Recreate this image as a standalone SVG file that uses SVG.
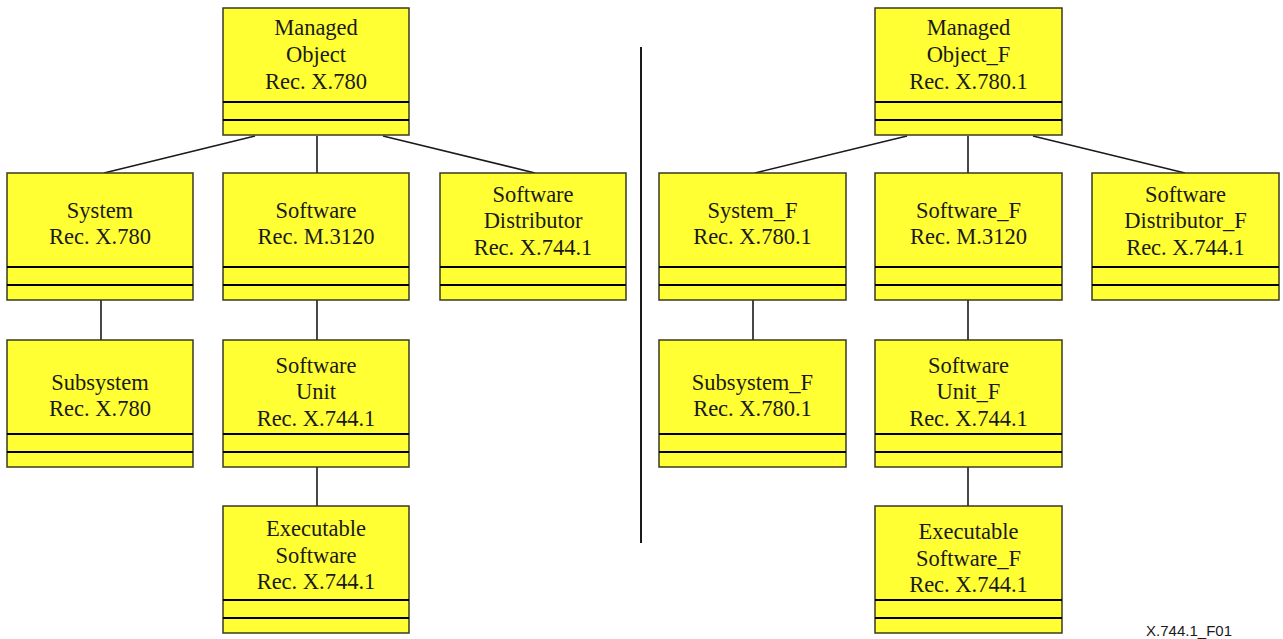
<svg xmlns="http://www.w3.org/2000/svg" width="1283" height="639" viewBox="0 0 1283 639">
<style>
.box{fill:#FFFF33;stroke:#3a3a20;stroke-width:1.5}
.sep{stroke:#000;stroke-width:2.2}
.t{font-family:"Liberation Serif","Times New Roman",serif;font-size:22.5px;fill:#1a1a1a;text-anchor:middle}
.c{stroke:#1a1a1a;stroke-width:1.6;fill:none}
.lbl{font-family:"Liberation Sans",Arial,sans-serif;font-size:15px;fill:#1a1a1a;text-anchor:end}
</style>
<rect width="1283" height="639" fill="#fff"/>
<g id="connectors">
<line class="c" x1="255" y1="136" x2="104" y2="173"/>
<line class="c" x1="317" y1="136" x2="317" y2="173"/>
<line class="c" x1="383" y1="136" x2="535" y2="173"/>
<line class="c" x1="907" y1="136" x2="755" y2="173"/>
<line class="c" x1="968" y1="136" x2="968" y2="173"/>
<line class="c" x1="1033" y1="136" x2="1185" y2="173"/>
<line class="c" x1="101" y1="300" x2="101" y2="340"/>
<line class="c" x1="317" y1="300" x2="317" y2="340"/>
<line class="c" x1="317" y1="467" x2="317" y2="506"/>
<line class="c" x1="753" y1="300" x2="753" y2="340"/>
<line class="c" x1="968" y1="300" x2="968" y2="340"/>
<line class="c" x1="968" y1="467" x2="968" y2="506"/>
</g>
<line id="divider" x1="641" y1="47" x2="641" y2="543" stroke="#1a1a1a" stroke-width="2"/>

<g id="managed-object">
<rect class="box" x="223" y="8" width="186" height="127"/>
<line class="sep" x1="223" y1="102" x2="409" y2="102"/><line class="sep" x1="223" y1="120" x2="409" y2="120"/>
<text class="t" x="316" y="35">Managed</text><text class="t" x="316" y="62">Object</text><text class="t" x="316" y="89">Rec. X.780</text>
</g>
<g id="system">
<rect class="box" x="7" y="173" width="186" height="127"/>
<line class="sep" x1="7" y1="267" x2="193" y2="267"/><line class="sep" x1="7" y1="285" x2="193" y2="285"/>
<text class="t" x="100" y="218">System</text><text class="t" x="100" y="244">Rec. X.780</text>
</g>
<g id="software">
<rect class="box" x="223" y="173" width="186" height="127"/>
<line class="sep" x1="223" y1="267" x2="409" y2="267"/><line class="sep" x1="223" y1="285" x2="409" y2="285"/>
<text class="t" x="316" y="218">Software</text><text class="t" x="316" y="244">Rec. M.3120</text>
</g>
<g id="software-distributor">
<rect class="box" x="440" y="173" width="186" height="127"/>
<line class="sep" x1="440" y1="267" x2="626" y2="267"/><line class="sep" x1="440" y1="285" x2="626" y2="285"/>
<text class="t" x="533" y="202">Software</text><text class="t" x="533" y="228">Distributor</text><text class="t" x="533" y="255">Rec. X.744.1</text>
</g>
<g id="subsystem">
<rect class="box" x="7" y="340" width="186" height="127"/>
<line class="sep" x1="7" y1="434" x2="193" y2="434"/><line class="sep" x1="7" y1="452" x2="193" y2="452"/>
<text class="t" x="100" y="390">Subsystem</text><text class="t" x="100" y="416">Rec. X.780</text>
</g>
<g id="software-unit">
<rect class="box" x="223" y="340" width="186" height="127"/>
<line class="sep" x1="223" y1="434" x2="409" y2="434"/><line class="sep" x1="223" y1="452" x2="409" y2="452"/>
<text class="t" x="316" y="373">Software</text><text class="t" x="316" y="399">Unit</text><text class="t" x="316" y="426">Rec. X.744.1</text>
</g>
<g id="executable-software">
<rect class="box" x="223" y="506" width="186" height="127"/>
<line class="sep" x1="223" y1="600" x2="409" y2="600"/><line class="sep" x1="223" y1="618" x2="409" y2="618"/>
<text class="t" x="316" y="536">Executable</text><text class="t" x="316" y="563">Software</text><text class="t" x="316" y="589">Rec. X.744.1</text>
</g>

<g id="managed-object-f">
<rect class="box" x="875" y="8" width="187" height="127"/>
<line class="sep" x1="875" y1="102" x2="1062" y2="102"/><line class="sep" x1="875" y1="120" x2="1062" y2="120"/>
<text class="t" x="968.5" y="35">Managed</text><text class="t" x="968.5" y="62">Object_F</text><text class="t" x="968.5" y="89">Rec. X.780.1</text>
</g>
<g id="system-f">
<rect class="box" x="659" y="173" width="187" height="127"/>
<line class="sep" x1="659" y1="267" x2="846" y2="267"/><line class="sep" x1="659" y1="285" x2="846" y2="285"/>
<text class="t" x="752.5" y="218">System_F</text><text class="t" x="752.5" y="244">Rec. X.780.1</text>
</g>
<g id="software-f">
<rect class="box" x="875" y="173" width="187" height="127"/>
<line class="sep" x1="875" y1="267" x2="1062" y2="267"/><line class="sep" x1="875" y1="285" x2="1062" y2="285"/>
<text class="t" x="968.5" y="218">Software_F</text><text class="t" x="968.5" y="244">Rec. M.3120</text>
</g>
<g id="software-distributor-f">
<rect class="box" x="1092" y="173" width="187" height="127"/>
<line class="sep" x1="1092" y1="267" x2="1279" y2="267"/><line class="sep" x1="1092" y1="285" x2="1279" y2="285"/>
<text class="t" x="1185.5" y="202">Software</text><text class="t" x="1185.5" y="228">Distributor_F</text><text class="t" x="1185.5" y="255">Rec. X.744.1</text>
</g>
<g id="subsystem-f">
<rect class="box" x="659" y="340" width="187" height="127"/>
<line class="sep" x1="659" y1="434" x2="846" y2="434"/><line class="sep" x1="659" y1="452" x2="846" y2="452"/>
<text class="t" x="752.5" y="390">Subsystem_F</text><text class="t" x="752.5" y="416">Rec. X.780.1</text>
</g>
<g id="software-unit-f">
<rect class="box" x="875" y="340" width="187" height="127"/>
<line class="sep" x1="875" y1="434" x2="1062" y2="434"/><line class="sep" x1="875" y1="452" x2="1062" y2="452"/>
<text class="t" x="968.5" y="373">Software</text><text class="t" x="968.5" y="399">Unit_F</text><text class="t" x="968.5" y="426">Rec. X.744.1</text>
</g>
<g id="executable-software-f">
<rect class="box" x="875" y="506" width="187" height="127"/>
<line class="sep" x1="875" y1="600" x2="1062" y2="600"/><line class="sep" x1="875" y1="618" x2="1062" y2="618"/>
<text class="t" x="968.5" y="539">Executable</text><text class="t" x="968.5" y="566">Software_F</text><text class="t" x="968.5" y="592">Rec. X.744.1</text>
</g>

<text class="lbl" x="1232" y="636">X.744.1_F01</text>
</svg>
